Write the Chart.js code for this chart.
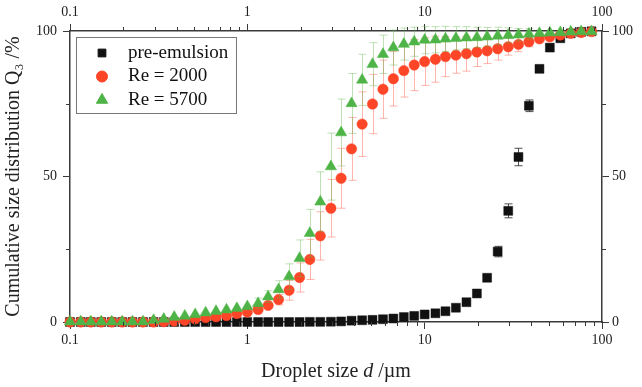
<!DOCTYPE html>
<html><head><meta charset="utf-8">
<script src="https://cdn.jsdelivr.net/npm/chart.js@4/dist/chart.umd.min.js"></script>
<style>html,body{margin:0;padding:0;background:#fff}#wrap{width:642px;height:387px}</style>
</head><body><div id="wrap"><canvas id="c" width="642" height="387"></canvas></div>
<script>
// ---- data ----
const sizes = [0.1,0.115,0.131,0.150,0.172,0.197,0.225,0.258,0.296,0.338,0.387,0.444,0.508,0.582,0.666,0.763,0.873,1.00,1.15,1.31,1.50,1.72,1.97,2.25,2.58,2.96,3.38,3.87,4.44,5.08,5.82,6.66,7.63,8.73,10.0,11.5,13.1,15.0,17.2,19.7,22.5,25.8,29.6,33.8,38.7,44.4,50.8,58.2,66.6,76.3,87.3];
const preEmulsion = [0,0,0,0,0,0,0,0,0,0,0,0,0,0,0,0,0,0,0,0,0,0,0,0.05,0.05,0.1,0.2,0.45,0.6,0.75,0.95,1.2,1.7,2.1,2.6,3.0,3.7,4.9,6.8,9.8,15.2,24.2,38.2,56.7,74.3,87.0,94.3,97.5,99.2,99.7,99.9];
const preEmulsionErr = [0,0,0,0,0,0,0,0,0,0,0,0,0,0,0,0,0,0,0,0,0,0,0,0,0,0,0,0,0,0,0,0,0,0,0,0,0,0,0,0,0.6,1.8,2.4,3.0,2.0,1.3,0.8,0.5,0.3,0.2,0.1];
const re2000 = [0,0,0,0,0,0,0,0,0,0.1,0.3,0.6,1.1,1.5,1.8,2.2,2.9,3.4,4.3,5.7,7.7,10.9,15.3,21.5,29.6,39.1,49.4,59.5,68.0,74.9,80.0,83.6,86.4,88.3,89.5,90.3,91.2,91.7,92.2,92.8,93.2,93.9,94.6,95.4,96.3,97.3,98.0,98.6,99.2,99.5,99.8];
const re2000Err = [0.1,0.1,0.1,0.1,0.1,0.1,0.1,0.1,0.1,0.1,0.1,0.1,0.2,0.3,0.3,0.4,0.6,0.8,1.0,1.3,1.8,3.4,5.0,6.9,8.3,9.9,10.3,10.8,11.1,10.2,10.0,9.4,9.1,8.8,8.2,7.9,6.9,6.2,6.0,5.0,4.4,3.9,2.9,2.5,1.7,1.2,0.8,0.5,0.3,0.2,0.1];
const re5700 = [0.1,0.1,0.1,0.1,0.1,0.1,0.1,0.1,0.6,1.0,1.7,2.1,2.6,3.2,3.7,4.2,4.7,5.3,6.4,8.7,11.2,15.6,21.9,30.5,41.3,53.4,65.1,75.1,83.2,88.6,92.0,94.3,95.5,96.3,96.9,97.0,97.3,97.5,97.7,97.8,98.0,98.3,98.5,98.7,99.0,99.2,99.4,99.5,99.7,99.8,99.8];
const re5700Err = [0.2,0.2,0.2,0.2,0.2,0.2,0.2,0.2,0.2,0.2,0.2,0.2,0.3,0.4,0.5,0.7,1.0,1.3,1.8,2.0,3.0,4.4,6.3,8.2,10.3,11.5,11.5,10.3,8.8,7.4,6.6,6.0,5.5,5.0,4.7,4.5,4.3,4.0,3.8,3.5,3.2,3.0,2.6,2.2,1.8,1.4,1.0,0.7,0.5,0.3,0.2];
const seriesNames = ['pre-emulsion', 'Re = 2000', 'Re = 5700'];
const xTickValues = [0.1, 1, 10, 100];
const xMinorTickValues = [0.2,0.3,0.4,0.5,0.6,0.7,0.8,0.9,2,3,4,5,6,7,8,9,20,30,40,50,60,70,80,90];
const yTickValues = [0, 50, 100];
const yMinorTickValues = [25, 75];
const xTitleParts = ['Droplet size ', 'd', ' /\u00B5m'];
const yTitle = 'Cumulative size distribution Q\u2083 /%';

const FONT = "'Liberation Serif', 'Times New Roman', serif";
const AXIS = '#3a3a3a';
const colors = { pre: '#111111', r2: '#ff4527', r5: '#4fb447' };
const errColors = ['rgba(60,60,60,0.9)', 'rgba(255,90,70,0.45)', 'rgba(90,180,70,0.40)'];
const errArrays = [preEmulsionErr, re2000Err, re5700Err];

const toPts = arr => sizes.map((x, i) => ({ x: x, y: arr[i] }));

const errorBarPlugin = {
  id: 'errorBars',
  beforeDatasetDraw(chart, args) {
    const ds = chart.data.datasets[args.index];
    const errs = errArrays[ds.errIndex];
    const xs = chart.scales.x, ys = chart.scales.y;
    const ctx = chart.ctx;
    ctx.save();
    ctx.strokeStyle = errColors[ds.errIndex];
    ctx.lineWidth = 1;
    ds.data.forEach((p, i) => {
      const e = errs[i];
      if (!e) return;
      const px = Math.round(xs.getPixelForValue(p.x)) + 0.5;
      const y1 = ys.getPixelForValue(p.y + e);
      const y2 = ys.getPixelForValue(p.y - e);
      if (Math.abs(y2 - y1) < 9) return;
      ctx.beginPath();
      ctx.moveTo(px, y1); ctx.lineTo(px, y2);
      ctx.moveTo(px - 4, y1); ctx.lineTo(px + 4, y1);
      ctx.moveTo(px - 4, y2); ctx.lineTo(px + 4, y2);
      ctx.stroke();
    });
    ctx.restore();
  }
};

const minorTickPlugin = {
  id: 'minorTicks',
  afterDraw(chart) {
    const ctx = chart.ctx;
    const a = chart.chartArea;
    ctx.save();
    ctx.strokeStyle = AXIS;
    ctx.lineWidth = 1;
    ctx.beginPath();
    xMinorTickValues.forEach(v => {
      const px = Math.round(chart.scales.x.getPixelForValue(v)) + 0.5;
      ctx.moveTo(px, a.bottom); ctx.lineTo(px, a.bottom + 4);
      ctx.moveTo(px, a.top); ctx.lineTo(px, a.top - 4);
    });
    yMinorTickValues.forEach(v => {
      const py = Math.round(chart.scales.y.getPixelForValue(v)) + 0.5;
      ctx.moveTo(a.left, py); ctx.lineTo(a.left - 4, py);
      ctx.moveTo(a.right, py); ctx.lineTo(a.right + 4, py);
    });
    ctx.stroke();
    ctx.restore();
  }
};

// x-axis title with italic "d"
const xTitlePlugin = {
  id: 'xTitle',
  afterDraw(chart) {
    const ctx = chart.ctx;
    const a = chart.chartArea;
    const fonts = ['20px ' + FONT, 'italic 20px ' + FONT, '20px ' + FONT];
    ctx.save();
    let total = 0;
    const widths = xTitleParts.map((t, i) => { ctx.font = fonts[i]; const w = ctx.measureText(t).width; total += w; return w; });
    let x = (a.left + a.right) / 2 - total / 2;
    const y = chart.height - 15;
    ctx.fillStyle = '#222';
    ctx.textBaseline = 'middle';
    ctx.textAlign = 'left';
    xTitleParts.forEach((t, i) => { ctx.font = fonts[i]; ctx.fillText(t, x, y); x += widths[i]; });
    ctx.restore();
  }
};

const legendPlugin = {
  id: 'boxLegend',
  afterDraw(chart) {
    const ctx = chart.ctx;
    const a = chart.chartArea;
    const L = a.left + 6, T = a.top + 6, W = 160, H = 76;
    ctx.save();
    ctx.fillStyle = '#fff';
    ctx.fillRect(L, T, W, H);
    ctx.strokeStyle = '#777';
    ctx.lineWidth = 1;
    ctx.strokeRect(L + 0.5, T + 0.5, W, H);
    const order = [0, 1, 2].map(k => chart.data.datasets.find(d => d.errIndex === k));
    order.forEach((ds, k) => {
      const cy = T + 16 + k * 23.5;
      ctx.fillStyle = ds.backgroundColor;
      ctx.strokeStyle = ds.borderColor;
      Chart.helpers.drawPoint(ctx, { pointStyle: ds.pointStyle, radius: ds.legendRadius, rotation: 0, borderWidth: 0.5 }, L + 26, cy);
      ctx.fillStyle = '#111';
      ctx.font = '19px ' + FONT;
      ctx.textBaseline = 'middle';
      ctx.textAlign = 'left';
      ctx.fillText(seriesNames[ds.errIndex], L + 52, cy);
    });
    ctx.restore();
  }
};

const tickFont = { family: FONT, size: 14 };
const titleFont = { family: FONT, size: 20 };

new Chart(document.getElementById('c'), {
  type: 'scatter',
  data: {
    datasets: [
      { label: seriesNames[0], errIndex: 0, data: toPts(preEmulsion), pointStyle: 'rect', pointRadius: 6.3, legendRadius: 5.5,
        backgroundColor: colors.pre, borderColor: colors.pre, pointBorderWidth: 0.5, order: 3, clip: false },
      { label: seriesNames[1], errIndex: 1, data: toPts(re2000), pointStyle: 'circle', pointRadius: 5.2, legendRadius: 5.5,
        backgroundColor: colors.r2, borderColor: colors.r2, pointBorderWidth: 0.5, order: 2, clip: false },
      { label: seriesNames[2], errIndex: 2, data: toPts(re5700), pointStyle: 'triangle', pointRadius: 6.5, legendRadius: 6.5,
        backgroundColor: colors.r5, borderColor: colors.r5, pointBorderWidth: 0.5, order: 1, clip: false }
    ]
  },
  options: {
    responsive: false,
    animation: false,
    devicePixelRatio: 1,
    layout: { padding: 0 },
    plugins: { legend: { display: false }, tooltip: { enabled: false } },
    scales: {
      x: {
        type: 'logarithmic', position: 'bottom', min: 0.1, max: 100,
        afterBuildTicks: s => { s.ticks = xTickValues.map(v => ({ value: v, major: true })); },
        afterFit: s => { s.height = 65; },
        ticks: { font: tickFont, color: '#222', padding: 3, maxRotation: 0, autoSkip: false, callback: v => String(v) },
        grid: { drawOnChartArea: false, drawTicks: true, tickLength: 7, color: AXIS, lineWidth: 1 },
        border: { display: true, color: AXIS, width: 1.5 },
        title: { display: false, text: xTitleParts.join('') }
      },
      x2: {
        type: 'logarithmic', position: 'top', min: 0.1, max: 100,
        afterBuildTicks: s => { s.ticks = xTickValues.map(v => ({ value: v, major: true })); },
        afterFit: s => { s.height = 31; },
        ticks: { font: tickFont, color: '#222', padding: 3, maxRotation: 0, autoSkip: false, callback: v => String(v) },
        grid: { drawOnChartArea: false, drawTicks: true, tickLength: 7, color: AXIS, lineWidth: 1 },
        border: { display: true, color: AXIS, width: 1.5 }
      },
      y: {
        type: 'linear', position: 'left', min: 0, max: 100,
        afterBuildTicks: s => { s.ticks = yTickValues.map(v => ({ value: v })); },
        afterFit: s => { s.width = 70; },
        ticks: { font: tickFont, color: '#222', padding: 6, callback: v => String(v) },
        grid: { drawOnChartArea: false, drawTicks: true, tickLength: 7, color: AXIS, lineWidth: 1 },
        border: { display: true, color: AXIS, width: 1.5 },
        title: { display: true, text: yTitle, font: titleFont, color: '#222', padding: { top: 2, bottom: 0 } }
      },
      y2: {
        type: 'linear', position: 'right', min: 0, max: 100,
        afterBuildTicks: s => { s.ticks = yTickValues.map(v => ({ value: v })); },
        afterFit: s => { s.width = 40; },
        ticks: { font: tickFont, color: '#222', padding: 3, callback: v => String(v) },
        grid: { drawOnChartArea: false, drawTicks: true, tickLength: 7, color: AXIS, lineWidth: 1 },
        border: { display: true, color: AXIS, width: 1.5 }
      }
    }
  },
  plugins: [errorBarPlugin, minorTickPlugin, xTitlePlugin, legendPlugin]
});
</script>
</body></html>
